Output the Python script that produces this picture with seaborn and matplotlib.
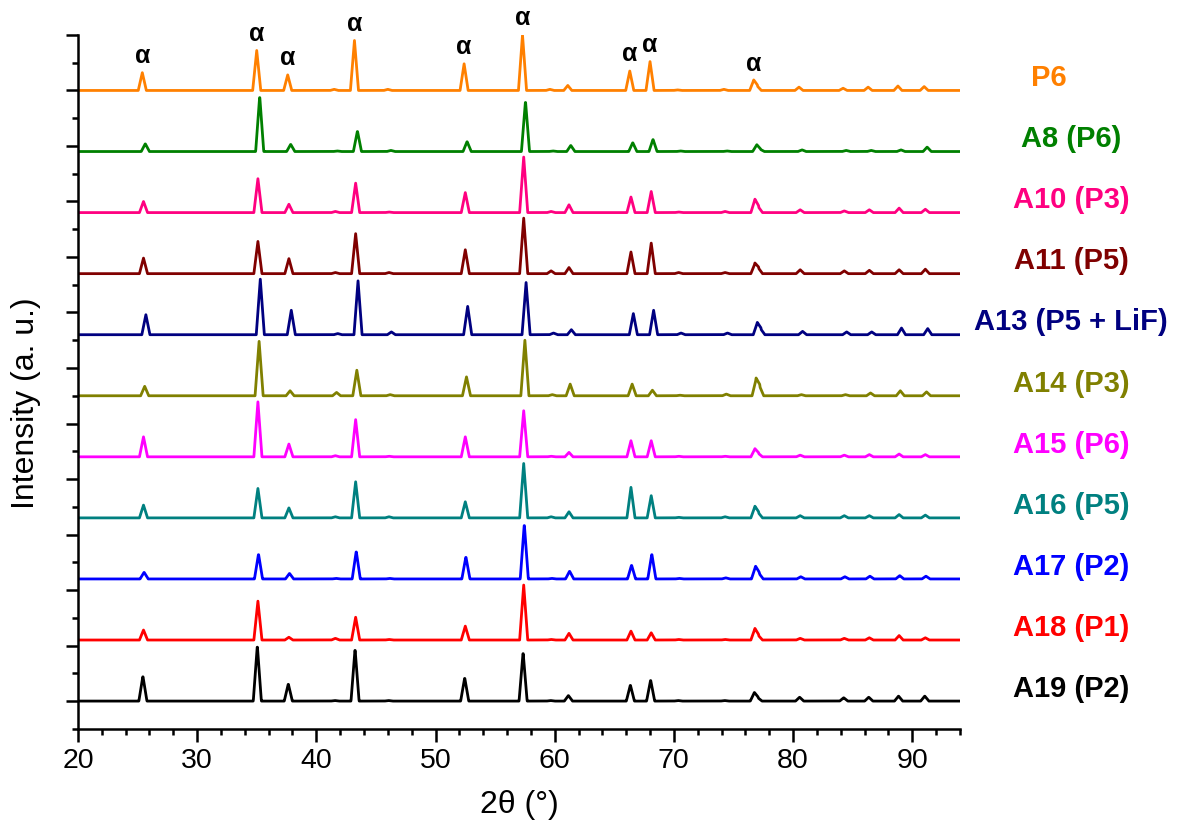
import numpy as np
import pandas as pd
import matplotlib
matplotlib.use("Agg")
import matplotlib.pyplot as plt
import matplotlib.transforms as mtransforms
from matplotlib.ticker import MultipleLocator, NullFormatter
import seaborn as sns

# ---------------- data ----------------
# samples listed from bottom trace to top trace
samples = ["A19 (P2)", "A18 (P1)", "A17 (P2)", "A16 (P5)", "A15 (P6)", "A14 (P3)",
           "A13 (P5 + LiF)", "A11 (P5)", "A10 (P3)", "A8 (P6)", "P6"]
colors = ["#000000", "#FF0000", "#0000FF", "#008080", "#FF00FF", "#808000",
          "#000080", "#800000", "#FF0080", "#008000", "#FF8000"]

# reflection positions (2theta, degrees)
peak_positions = [25.5, 35.1, 37.7, 41.6, 43.3, 46.1, 52.5, 57.4, 59.7, 61.2, 66.4,
                  68.1, 70.4, 74.3, 76.8, 77.1, 80.6, 84.3, 86.4, 88.9, 91.1]
# small per-sample peak shift (degrees)
peak_shift = [-0.05, 0.0, 0.05, 0.0, 0.0, 0.1, 0.2, 0.0, 0.0, 0.15, -0.1]

# normalised peak heights for every sample (same order as peak_positions)
h_A19 = [0.45, 1.00, 0.31, 0.01, 0.94, 0.01, 0.42, 0.88, 0.01, 0.10, 0.29, 0.38, 0.01, 0.01, 0.15, 0.06, 0.07, 0.06, 0.07, 0.09, 0.09]
h_A18 = [0.18, 0.70, 0.05, 0.03, 0.41, 0.01, 0.25, 0.99, 0.01, 0.12, 0.16, 0.13, 0.01, 0.01, 0.20, 0.08, 0.03, 0.03, 0.04, 0.08, 0.04]
h_A17 = [0.12, 0.45, 0.10, 0.01, 0.50, 0.01, 0.40, 0.99, 0.01, 0.14, 0.25, 0.45, 0.01, 0.02, 0.22, 0.10, 0.04, 0.04, 0.05, 0.06, 0.05]
h_A16 = [0.23, 0.53, 0.18, 0.02, 0.65, 0.02, 0.29, 0.98, 0.02, 0.11, 0.55, 0.40, 0.01, 0.02, 0.20, 0.09, 0.04, 0.04, 0.04, 0.06, 0.05]
h_A15 = [0.36, 0.99, 0.23, 0.02, 0.67, 0.01, 0.36, 0.83, 0.01, 0.08, 0.29, 0.29, 0.01, 0.01, 0.14, 0.06, 0.03, 0.03, 0.04, 0.05, 0.04]
h_A14 = [0.17, 0.98, 0.09, 0.06, 0.46, 0.02, 0.34, 1.00, 0.02, 0.21, 0.21, 0.10, 0.01, 0.03, 0.30, 0.17, 0.02, 0.02, 0.05, 0.09, 0.07]
h_A13 = [0.36, 1.00, 0.44, 0.02, 0.97, 0.05, 0.51, 0.94, 0.03, 0.09, 0.38, 0.44, 0.03, 0.03, 0.21, 0.10, 0.06, 0.05, 0.05, 0.12, 0.11]
h_A11 = [0.28, 0.58, 0.27, 0.02, 0.72, 0.02, 0.43, 1.00, 0.05, 0.11, 0.39, 0.55, 0.02, 0.02, 0.18, 0.10, 0.07, 0.05, 0.06, 0.07, 0.08]
h_A10 = [0.20, 0.61, 0.15, 0.02, 0.53, 0.01, 0.36, 1.00, 0.02, 0.14, 0.28, 0.38, 0.01, 0.02, 0.23, 0.10, 0.05, 0.03, 0.05, 0.08, 0.06]
h_A8  = [0.14, 1.00, 0.13, 0.01, 0.37, 0.02, 0.18, 0.91, 0.01, 0.11, 0.16, 0.22, 0.01, 0.01, 0.12, 0.04, 0.03, 0.02, 0.02, 0.03, 0.08]
h_P6  = [0.32, 0.72, 0.28, 0.02, 0.90, 0.02, 0.48, 1.00, 0.02, 0.09, 0.35, 0.52, 0.01, 0.02, 0.18, 0.08, 0.06, 0.04, 0.06, 0.08, 0.07]
heights = [h_A19, h_A18, h_A17, h_A16, h_A15, h_A14, h_A13, h_A11, h_A10, h_A8, h_P6]

# reflections marked with alpha on the P6 pattern
alpha_peaks = [25.5, 35.1, 37.7, 43.3, 52.5, 57.4, 66.4, 68.1, 76.8]

# ---------------- build long table ----------------
stack_step = 1.1
half_width = 0.34
x_grid = np.arange(20.0, 94.0001, 0.02)
rows = []
for i, (name, hs, sh) in enumerate(zip(samples, heights, peak_shift)):
    y = np.zeros_like(x_grid)
    for p, h in zip(peak_positions, hs):
        y += h * np.clip(1 - np.abs(x_grid - (p + sh)) / half_width, 0, None)
    rows.append(pd.DataFrame({"two_theta": x_grid, "intensity": y + i * stack_step, "sample": name}))
df = pd.concat(rows, ignore_index=True)

# ---------------- plot ----------------
sns.set_theme(style="ticks")
plt.rcParams["font.family"] = ["Liberation Sans", "DejaVu Sans"]

fig = plt.figure(figsize=(11.81, 8.32), dpi=100)
ax = fig.add_axes([0.066, 0.124, 0.7468, 0.834])

sns.lineplot(data=df, x="two_theta", y="intensity", hue="sample",
             palette=dict(zip(samples, colors)), estimator=None, sort=False,
             legend=False, linewidth=2.0, ax=ax)

ax.set_xlim(20, 94)
ax.set_ylim(-0.5, 12)
ax.xaxis.set_major_locator(MultipleLocator(10))
ax.xaxis.set_minor_locator(MultipleLocator(2))
ax.yaxis.set_major_locator(MultipleLocator(1))
ax.yaxis.set_minor_locator(MultipleLocator(0.5))
ax.yaxis.set_major_formatter(NullFormatter())
ax.tick_params(which="major", length=9, width=1.8, direction="out", labelsize=20.5,
               colors="black", pad=5)
ax.tick_params(which="minor", length=4.5, width=1.8, direction="out", colors="black")
sns.despine(ax=ax)
for s in ("left", "bottom"):
    ax.spines[s].set_linewidth(1.8)
    ax.spines[s].set_color("black")

ax.set_xlabel("2θ (°)", fontsize=23, color="black")
ax.xaxis.set_label_coords(0.5, -0.088)
ax.set_ylabel("Intensity (a. u.)", fontsize=23, color="black")
ax.yaxis.set_label_coords(-0.042, 0.47)

# sample labels at the right
trans = mtransforms.blended_transform_factory(ax.transAxes, ax.transData)
for i, (name, c) in enumerate(zip(samples, colors)):
    xpos = 1.101 if name == "P6" else 1.126
    ax.text(xpos, i * stack_step + 0.22, name, transform=trans, ha="center", va="center",
            fontsize=21, fontweight="bold", color=c, clip_on=False)

# alpha markers over the P6 pattern
top_i = len(samples) - 1
for p in alpha_peaks:
    h = h_P6[peak_positions.index(p)]
    ax.text(p + peak_shift[top_i], top_i * stack_step + h + 0.3, "α", ha="center", va="center",
            fontsize=18, fontweight="bold", color="black", clip_on=False)

fig.savefig("out.png", dpi=100)
